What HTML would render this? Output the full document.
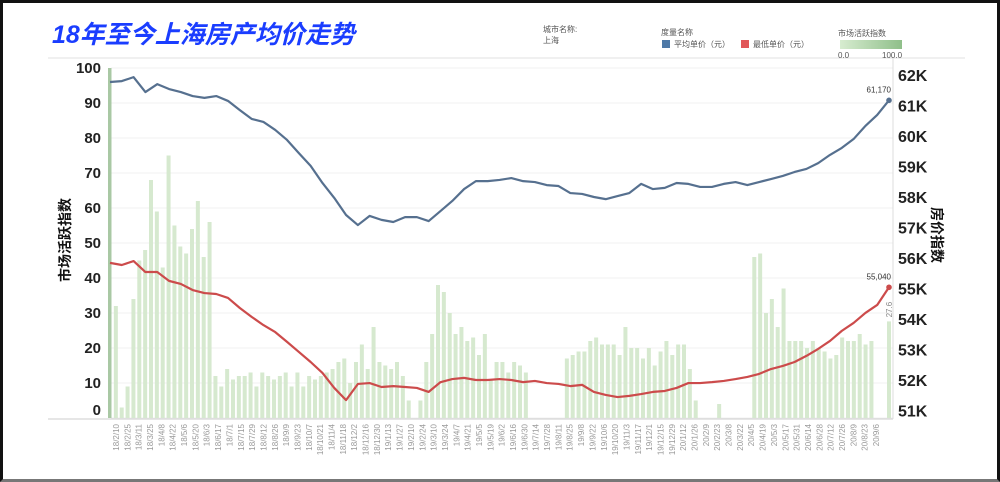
<!DOCTYPE html>
<html><head><meta charset="utf-8">
<style>
html,body{margin:0;padding:0;background:#fff;}
body{width:1000px;height:482px;overflow:hidden;position:relative;font-family:"Liberation Sans","Noto Sans CJK SC",sans-serif;}
.frame{position:absolute;left:0;top:0;width:994px;height:476px;border:3px solid #111;border-bottom:3px solid #777;}
</style></head>
<body>
<div class="frame"></div>
<svg id="chart" width="1000" height="482" style="position:absolute;left:0;top:0">
<text x="52" y="43" font-size="25" font-weight="bold" font-style="italic" fill="#1a3dff" font-family="'Liberation Sans','Noto Sans CJK SC',sans-serif">18年至今上海房产均价走势</text>
<line x1="48" y1="58" x2="965" y2="58" stroke="#e2e2e2" stroke-width="1"/>
<g font-size="8" fill="#555">
<text x="543" y="32">城市名称:</text><text x="543" y="43">上海</text></g>
<g font-size="8" fill="#555">
<text x="661" y="35">度量名称</text>
<rect x="662" y="40" width="8" height="8" fill="#4e79a7"/>
<text x="674" y="47">平均单价（元）</text>
<rect x="741" y="40" width="8" height="8" fill="#e15759"/>
<text x="753" y="47">最低单价（元）</text></g>
<defs><linearGradient id="gg" x1="0" x2="1"><stop offset="0" stop-color="#d7ecd0"/><stop offset="1" stop-color="#8fbf8a"/></linearGradient></defs>
<g font-size="8" fill="#555">
<text x="838" y="36">市场活跃指数</text>
<rect x="840" y="40" width="62" height="9" fill="url(#gg)"/>
<text x="838" y="58">0.0</text><text x="882" y="58">100.0</text></g>
<g id="grid"></g><g id="bars"></g><g id="lines"></g><g id="axes"></g>
<text transform="translate(70,240) rotate(-90)" text-anchor="middle" font-size="14" font-weight="bold" fill="#111">市场活跃指数</text>
<text transform="translate(932,235) rotate(90)" text-anchor="middle" font-size="14" font-weight="bold" fill="#111">房价指数</text>
</svg>
<script>
const activity = [100,32,3,9,34,45,48,68,59,43,75,55,49,47,54,62,46,56,12,9,14,11,12,12,13,9,13,12,11,12,13,9,13,9,12,11,12,13,14,16,17,10,16,21,14,26,16,15,14,16,12,5,0,5,16,24,38,36,30,24,26,22,23,18,24,11,16,16,13,16,15,13,0,0,0,0,0,0,17,18,19,19,22,23,21,21,21,18,26,20,20,17,20,15,19,22,18,21,21,14,5,0,0,0,4,0,0,0,0,0,46,47,30,34,26,37,22,22,22,20,22,20,19,17,18,23,22,22,24,21,22,0,0,27.6];
const avgPrice = [61.77,61.80,61.93,61.44,61.70,61.54,61.44,61.31,61.25,61.31,61.15,60.85,60.56,60.46,60.20,59.87,59.44,59.02,58.46,57.97,57.41,57.08,57.38,57.25,57.18,57.34,57.34,57.21,57.54,57.87,58.26,58.52,58.52,58.56,58.62,58.52,58.49,58.39,58.36,58.13,58.10,58.00,57.93,58.03,58.13,58.43,58.26,58.30,58.46,58.43,58.33,58.33,58.43,58.49,58.39,58.49,58.59,58.69,58.82,58.92,59.11,59.38,59.61,59.90,60.33,60.69,61.17];
const minPrice = [55.84,55.77,55.90,55.54,55.54,55.25,55.15,54.95,54.85,54.82,54.69,54.36,54.07,53.80,53.57,53.25,52.92,52.59,52.23,51.74,51.34,51.87,51.90,51.77,51.80,51.77,51.74,51.61,51.93,52.03,52.07,52.00,52.00,52.03,52.00,51.93,51.97,51.90,51.87,51.80,51.84,51.61,51.51,51.44,51.48,51.54,51.61,51.64,51.74,51.90,51.90,51.93,51.97,52.03,52.10,52.20,52.36,52.46,52.59,52.79,53.02,53.28,53.61,53.87,54.20,54.46,55.04];
const dateLabels = ["18/2/10","18/2/25","18/3/11","18/3/25","18/4/8","18/4/22","18/5/6","18/5/20","18/6/3","18/6/17","18/7/1","18/7/15","18/7/29","18/8/12","18/8/26","18/9/9","18/9/23","18/10/7","18/10/21","18/11/4","18/11/18","18/12/2","18/12/16","18/12/30","19/1/13","19/1/27","19/2/10","19/2/24","19/3/10","19/3/24","19/4/7","19/4/21","19/5/5","19/5/19","19/6/2","19/6/16","19/6/30","19/7/14","19/7/28","19/8/11","19/8/25","19/9/8","19/9/22","19/10/6","19/10/20","19/11/3","19/11/17","19/12/1","19/12/15","19/12/29","20/1/12","20/1/26","20/2/9","20/2/23","20/3/8","20/3/22","20/4/5","20/4/19","20/5/3","20/5/17","20/5/31","20/6/14","20/6/28","20/7/12","20/7/26","20/8/9","20/8/23","20/9/6"];
const leftTicks = [0,10,20,30,40,50,60,70,80,90,100];
const rightTicks = [51,52,53,54,55,56,57,58,59,60,61,62];

const NS="http://www.w3.org/2000/svg";
const X0=110, X1=889;
const xBar = i => X0 + i*(X1-X0)/(activity.length-1);
const xLine = i => X0 + i*(X1-X0)/(avgPrice.length-1);
const yL = v => 418 - v*3.5;
const yR = v => 75 + (62-v)*30.5;
function mk(tag, attrs, parent){const e=document.createElementNS(NS,tag);for(const k in attrs)e.setAttribute(k,attrs[k]);parent.appendChild(e);return e;}
const grid=document.getElementById('grid'), bars=document.getElementById('bars'), lines=document.getElementById('lines'), axes=document.getElementById('axes');

leftTicks.forEach(t=>{
  const g=mk('line',{x1:111,x2:893,y1:yL(t),y2:yL(t),stroke:'#f0f0f0','stroke-width':1},grid);
  
  
  const tx=mk('text',{x:101,y:yL(t)+(t===0?-3:5),'text-anchor':'end','font-size':15,'font-weight':'bold',fill:'#222'},axes);
  tx.textContent=t;
  
  
});
rightTicks.forEach(t=>{
  const tx=mk('text',{x:898,y:yR(t)+6,'font-size':16,'font-weight':'bold',fill:'#222'},axes);
  tx.textContent=t+'K';
  
  
});
activity.forEach((v,i)=>{
  if(v<=0)return;
  const r=mk('rect',{x:xBar(i)-2,y:yL(v),width:i===0?3.5:4,height:418-yL(v),fill:i===0?'#a9c8a4':'#d6e9cf'},bars);
  
  
});
const lastBar=activity.length-1;
const lb=mk('text',{transform:`translate(${xBar(lastBar)+3},${yL(activity[lastBar])-4}) rotate(-90)`,'font-size':8,fill:'#888'},bars);
lb.textContent=activity[lastBar];



function line(data,color,name){
  const p=mk('polyline',{points:data.map((v,i)=>xLine(i)+','+yR(v)).join(' '),fill:'none',stroke:color,'stroke-width':2.2,'stroke-linejoin':'round'},lines);
  
  
  const n=data.length-1;
  const c=mk('circle',{cx:xLine(n),cy:yR(data[n]),r:2.8,fill:color},lines);
  
  
  const t=mk('text',{x:xLine(n)+2,y:yR(data[n])-8,'text-anchor':'end','font-size':8,fill:'#333'},lines);
  t.textContent=Math.round(data[n]*1000).toLocaleString('en-US');
  
  
}
line(avgPrice,'#56708f','avg-price-line');
line(minPrice,'#cc4b4b','min-price-line');

const ax=mk('line',{x1:48,x2:893,y1:419,y2:419,stroke:'#ccc','stroke-width':1},axes);


const ra=mk('line',{x1:893,x2:893,y1:58,y2:419,stroke:'#ddd','stroke-width':1},axes);


dateLabels.forEach((d,i)=>{
  const x=116+i*(876-116)/(dateLabels.length-1);
  const t=mk('text',{transform:`translate(${x+3},424) rotate(-90)`,'text-anchor':'end','font-size':8,fill:'#999'},axes);
  t.textContent=d;
  
  
});
</script>
</body></html>
